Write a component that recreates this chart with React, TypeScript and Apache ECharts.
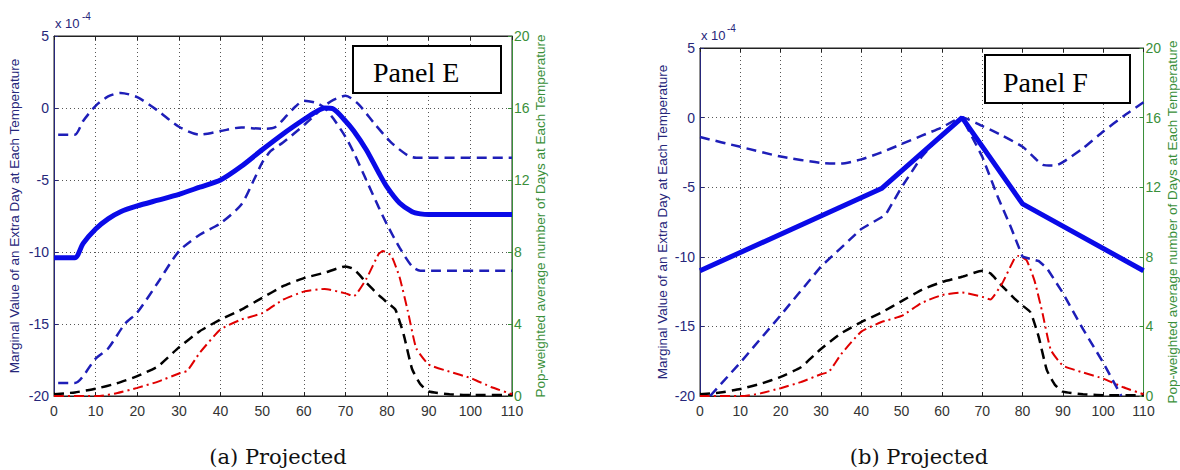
import React, { useEffect, useRef } from "react";
import * as echarts from "echarts";

// ---------- Panel E (left) ----------
const eMeanX = [0, 5, 7, 10, 13, 16, 20, 25, 30, 35, 40, 45, 50, 55, 60, 63, 65, 67, 70, 72, 75, 78, 80, 83, 86, 88, 90, 100, 110];
const eMeanY = [-10.4, -10.4, -9.4, -8.4, -7.7, -7.2, -6.8, -6.4, -6.0, -5.5, -5.0, -4.05, -2.9, -1.8, -0.8, -0.25, 0, -0.05, -0.9, -1.6, -2.9, -4.5, -5.5, -6.6, -7.2, -7.35, -7.4, -7.4, -7.4];

const eUpperX = [1, 5, 7, 10, 13, 16, 20, 25, 30, 35, 40, 45, 50, 53, 56, 58, 60, 63, 65, 67, 70, 72, 75, 78, 80, 83, 86, 88, 110];
const eUpperY = [-1.85, -1.85, -0.9, 0.15, 0.8, 1.05, 0.75, -0.2, -1.3, -1.85, -1.6, -1.35, -1.45, -1.35, -0.5, 0.1, 0.5, 0.35, 0.0, -0.7, -2.0, -3.1, -5.0, -6.9, -8.1, -9.7, -11.0, -11.3, -11.3];

const eLowerX = [1, 5, 10, 13, 17, 20, 25, 30, 35, 40, 45, 48, 50, 52, 55, 60, 63, 65, 67, 70, 73, 77, 81, 85, 87, 110];
const eLowerY = [-19.1, -19.1, -17.4, -16.7, -15.0, -14.2, -12.1, -9.95, -8.8, -8.0, -6.7, -5.0, -3.8, -3.0, -2.4, -1.2, -0.4, 0.15, 0.55, 0.85, 0.3, -1.1, -2.4, -3.3, -3.45, -3.45];

// ---------- Panel F (right) ----------
const fMeanX = [0, 45, 65, 80, 110];
const fMeanY = [-11.0, -5.1, 0, -6.2, -11.0];

const fUpperX = [0, 10, 20, 30, 35, 40, 45, 50, 55, 60, 65, 70, 75, 80, 83, 85, 88, 90, 95, 100, 105, 110];
const fUpperY = [-1.4, -2.1, -2.8, -3.25, -3.3, -3.0, -2.5, -1.9, -1.3, -0.7, 0, -0.6, -1.3, -2.1, -2.9, -3.4, -3.45, -3.2, -2.2, -1.0, 0.1, 1.1];

const fLowerX = [2.5, 10, 20, 30, 40, 46, 50, 55, 60, 65, 70, 74, 77, 80, 84, 86, 90, 95, 100, 104.5];
const fLowerY = [-20, -17.6, -14.2, -10.7, -8.0, -7.0, -5.0, -2.8, -1.2, 0, -2.8, -5.8, -7.8, -10.0, -10.3, -10.8, -12.6, -15.2, -17.6, -20];

// ---------- Day distributions (right axis, both panels) ----------
const histX = [0, 5, 10, 15, 20, 25, 30, 35, 40, 45, 50, 55, 60, 65, 70, 72, 75, 78, 80, 82, 84, 86, 88, 90, 95, 100, 110];
const histY = [0.1, 0.2, 0.4, 0.7, 1.1, 1.65, 2.7, 3.6, 4.25, 4.8, 5.45, 6.1, 6.55, 6.85, 7.2, 7.05, 6.3, 5.6, 5.2, 4.8, 3.4, 1.5, 0.65, 0.25, 0.1, 0.05, 0.05];

const projX = [0, 11, 15, 20, 25, 30, 32, 35, 40, 45, 50, 55, 60, 65, 70, 72, 75, 78, 79, 81, 83, 85, 87, 90, 95, 100, 105, 110];
const projY = [0, 0, 0.15, 0.45, 0.8, 1.25, 1.4, 2.4, 3.7, 4.25, 4.6, 5.35, 5.8, 5.95, 5.7, 5.55, 6.5, 7.9, 8.05, 7.8, 6.6, 4.7, 2.65, 1.75, 1.35, 1.0, 0.5, 0.1];

// ---------- Text ----------
const leftAxisName = "Marginal Value of an Extra Day at Each Temperature";
const rightAxisName = "Pop-weighted average number of Days at Each Temperature";
const panelLabels = ["Panel E", "Panel F"];
const captions = ["(a) Projected", "(b) Projected"];

const pairs = (xs: number[], ys: number[]) => xs.map((x, i) => [x, ys[i]]);

const SANS = "'Liberation Sans', Arial, sans-serif";
const NAVY = "#26267a";
const GREEN = "#3a8f3a";
const GRIDC = "#555";

function makeAxes(gridIndex: number, leftGap: number, rightGap: number) {
  const x = {
    gridIndex,
    type: "value",
    position: "bottom",
    min: 0,
    max: 110,
    interval: 10,
    axisLine: { show: true, onZero: false, lineStyle: { color: "#222", width: 1 } },
    axisTick: { show: true, inside: true, length: 4, lineStyle: { color: "#222" } },
    axisLabel: { color: "#333", fontSize: 14, margin: 8, fontFamily: SANS },
    splitLine: { show: true, lineStyle: { color: GRIDC, type: [1, 3], width: 1 } },
  };
  const xTop = {
    gridIndex,
    type: "value",
    position: "top",
    min: 0,
    max: 110,
    interval: 10,
    axisLine: { show: true, onZero: false, lineStyle: { color: "#222", width: 1 } },
    axisTick: { show: true, inside: true, length: 4, lineStyle: { color: "#222" } },
    axisLabel: { show: false },
    splitLine: { show: false },
  };
  const yl = {
    gridIndex,
    type: "value",
    position: "left",
    min: -20,
    max: 5,
    interval: 5,
    name: leftAxisName,
    nameLocation: "middle",
    nameRotate: 90,
    nameGap: leftGap,
    nameTextStyle: { color: NAVY, fontSize: 13.5, fontFamily: SANS },
    axisLine: { show: true, onZero: false, lineStyle: { color: NAVY, width: 1 } },
    axisTick: { show: true, inside: true, length: 4, lineStyle: { color: NAVY } },
    axisLabel: { color: NAVY, fontSize: 14, margin: 5, fontFamily: SANS },
    splitLine: { show: true, lineStyle: { color: GRIDC, type: [1, 3], width: 1 } },
  };
  const yr = {
    gridIndex,
    type: "value",
    position: "right",
    min: 0,
    max: 20,
    interval: 4,
    name: rightAxisName,
    nameLocation: "middle",
    nameRotate: 90,
    nameGap: rightGap,
    nameTextStyle: { color: GREEN, fontSize: 13.5, fontFamily: SANS },
    axisLine: { show: true, onZero: false, lineStyle: { color: GREEN, width: 1 } },
    axisTick: { show: true, inside: true, length: 4, lineStyle: { color: GREEN } },
    axisLabel: { color: GREEN, fontSize: 14, margin: 2, fontFamily: SANS },
    splitLine: { show: false },
  };
  return { x, xTop, yl, yr };
}

function line(data: number[][], xi: number, yi: number, color: string, width: number, type: any, smooth: number) {
  return {
    type: "line",
    xAxisIndex: xi,
    yAxisIndex: yi,
    data,
    symbol: "none",
    smooth,
    lineStyle: { color, width, type, cap: "butt" },
    z: 3,
  };
}

export default function App() {
  const ref = useRef<HTMLDivElement>(null);
  useEffect(() => {
    if (!ref.current) return;
    const chart = echarts.init(ref.current, undefined, { renderer: "svg" });
    const a0 = makeAxes(0, 33, 20);
    const a1 = makeAxes(1, 31, 15);
    const SOLID = "#0a0ae8";
    const DASHB = "#1e1eb8";
    const dash = [10, 6];
    const dashDot = [10, 4, 2, 4];
    const option: any = {
      animation: false,
      backgroundColor: "#ffffff",
      grid: [
        { left: 54, top: 36, width: 458, height: 360, show: true, borderColor: "#222", borderWidth: 1, backgroundColor: "transparent" },
        { left: 700, top: 48, width: 449, height: 348, show: true, borderColor: "#222", borderWidth: 1, backgroundColor: "transparent" },
      ],
      xAxis: [a0.x, a1.x, a0.xTop, a1.xTop],
      yAxis: [a0.yl, a0.yr, a1.yl, a1.yr],
      series: [
        line(pairs(histX, histY), 0, 1, "#000000", 2.5, dash, 0.15),
        line(pairs(projX, projY), 0, 1, "#e00000", 2, dashDot, 0.15),
        line(pairs(eUpperX, eUpperY), 0, 0, DASHB, 2.5, dash, 0.25),
        line(pairs(eLowerX, eLowerY), 0, 0, DASHB, 2.5, dash, 0.25),
        line(pairs(eMeanX, eMeanY), 0, 0, SOLID, 5, "solid", 0.25),
        line(pairs(histX, histY), 1, 3, "#000000", 2.5, dash, 0.15),
        line(pairs(projX, projY), 1, 3, "#e00000", 2, dashDot, 0.15),
        line(pairs(fUpperX, fUpperY), 1, 2, DASHB, 2.5, dash, 0.2),
        line(pairs(fLowerX, fLowerY), 1, 2, DASHB, 2.5, dash, 0),
        line(pairs(fMeanX, fMeanY), 1, 2, SOLID, 5, "solid", 0),
      ],
      graphic: [
        { type: "text", x: 55, y: 17, style: { text: "x 10", fontSize: 13, fontFamily: SANS, fill: NAVY } },
        { type: "text", x: 82, y: 11, style: { text: "-4", fontSize: 10, fontFamily: SANS, fill: NAVY } },
        { type: "text", x: 701, y: 29, style: { text: "x 10", fontSize: 13, fontFamily: SANS, fill: NAVY } },
        { type: "text", x: 727, y: 23, style: { text: "-4", fontSize: 10, fontFamily: SANS, fill: NAVY } },
        { type: "rect", z: 100, shape: { x: 353, y: 46, width: 148, height: 47 }, style: { fill: "#fff", stroke: "#000", lineWidth: 2 } },
        { type: "text", z: 101, x: 373, y: 72, style: { text: panelLabels[0], fontSize: 28, fontFamily: "'Liberation Serif', 'Times New Roman', serif", fill: "#000", verticalAlign: "middle" } },
        { type: "rect", z: 100, shape: { x: 985, y: 55, width: 145, height: 48 }, style: { fill: "#fff", stroke: "#000", lineWidth: 2 } },
        { type: "text", z: 101, x: 1003, y: 82, style: { text: panelLabels[1], fontSize: 28, fontFamily: "'Liberation Serif', 'Times New Roman', serif", fill: "#000", verticalAlign: "middle" } },
        { type: "text", x: 278, y: 457, style: { text: captions[0], fontSize: 21, fontFamily: "'DejaVu Serif', serif", fill: "#111", align: "center", verticalAlign: "middle" } },
        { type: "text", x: 919, y: 457, style: { text: captions[1], fontSize: 21, fontFamily: "'DejaVu Serif', serif", fill: "#111", align: "center", verticalAlign: "middle" } },
      ],
    };
    chart.setOption(option);
    return () => chart.dispose();
  }, []);
  return (
    <div
      ref={ref}
      style={{ position: "absolute", left: 0, top: 0, width: 1180, height: 470, background: "#fff" }}
    />
  );
}
